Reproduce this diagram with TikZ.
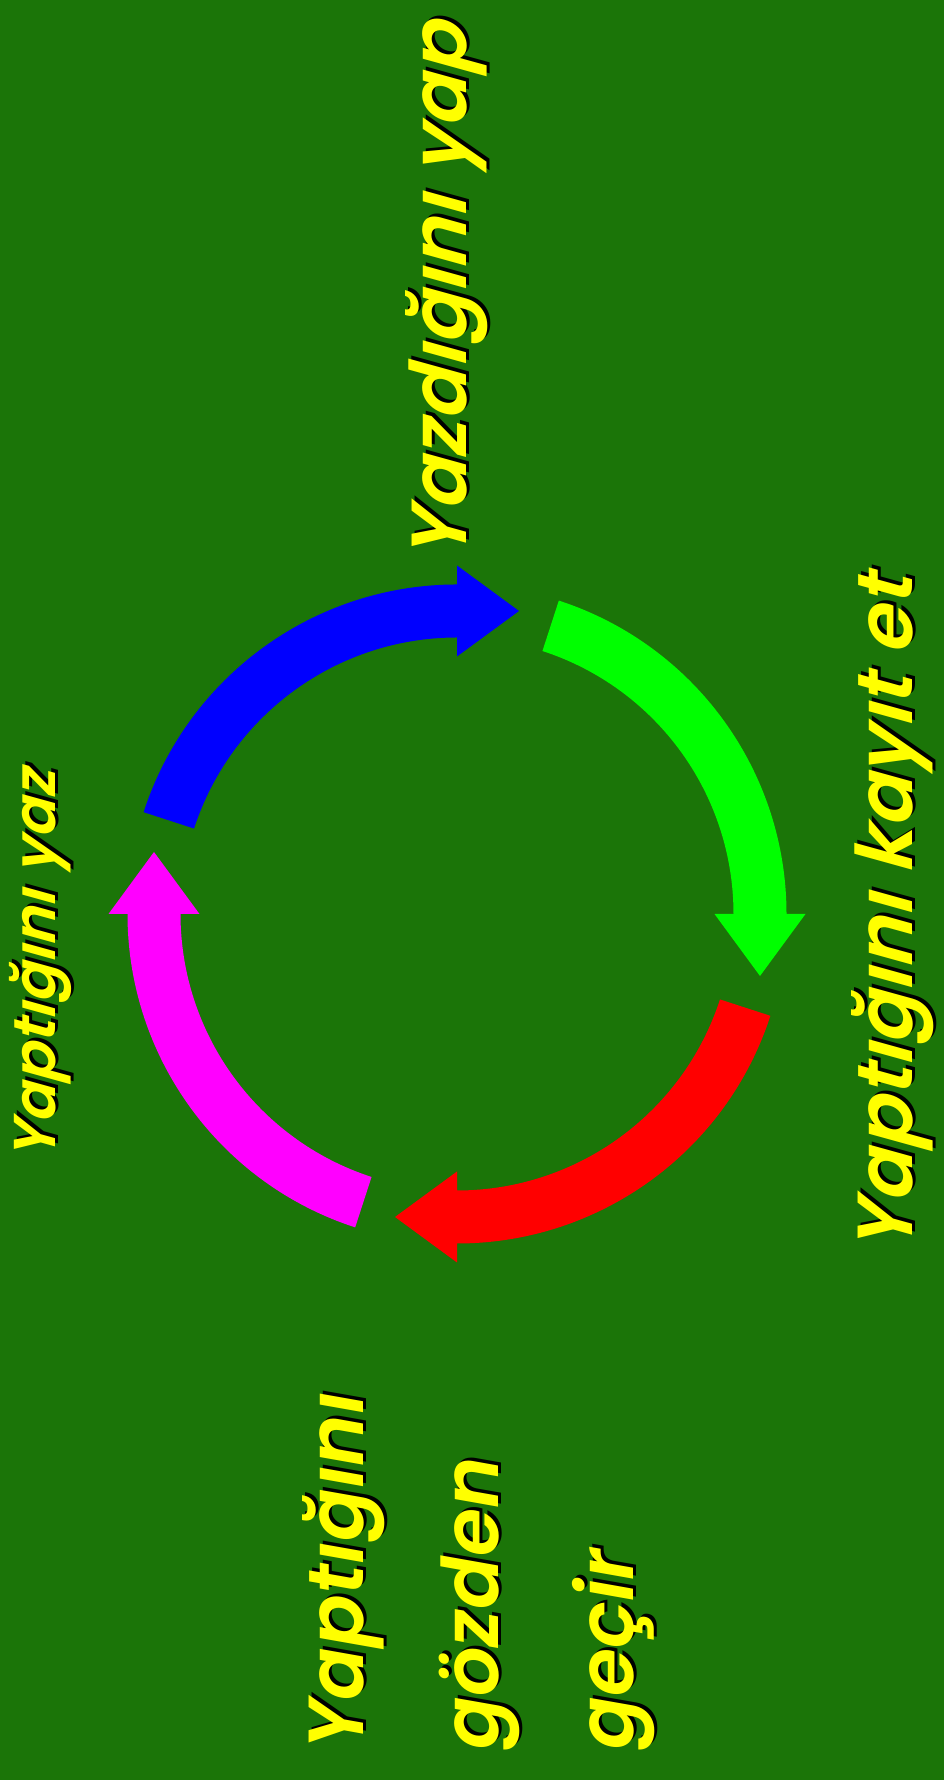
\documentclass[tikz,border=0pt]{standalone}
\usepackage{fontspec}
\newfontfamily\cyclefont{Poppins}[ItalicFont={* SemiBold Italic}]
\usepackage{xcolor}
\definecolor{cycle-bg}{RGB}{27,117,8}
\definecolor{cycle-text}{HTML}{FFFF00}
\definecolor{cycle-blue}{HTML}{0000FF}
\definecolor{cycle-green}{HTML}{00FF00}
\definecolor{cycle-red}{HTML}{FF0000}
\definecolor{cycle-magenta}{HTML}{FF00FF}

\begin{document}
\begin{tikzpicture}[
  x=1pt, y=1pt,
  lblbase/.style={
    rotate=90, inner sep=0pt, text=cycle-text,
    font=\cyclefont\itshape\fontsize{78}{135}\selectfont
  },
  lbl/.style={lblbase, xslant=0.1},
  lblsmall/.style={
    lbl, font=\cyclefont\itshape\fontsize{59}{100}\selectfont
  },
  shade/.style={text=black}
]

%% Background
\fill[cycle-bg] (0,0) rectangle (944,1780);
\useasboundingbox (0,0) rectangle (944,1780);

%% Cycle arrows
\foreach \rot/\col in {0/cycle-blue, -90/cycle-green, -180/cycle-red, 90/cycle-magenta}{
  \begin{scope}[shift={(457,866)}, rotate=\rot]
    \fill[\col] (162:329.5) arc[start angle=162, end angle=90, radius=329.5]
      -- (0,348.5) -- (62,303) -- (0,257.5) -- (0,276.5)
      arc[start angle=90, end angle=162, radius=276.5] -- cycle;
  \end{scope}
}

%% Labels
\node[lbl, shade] (yapS) at (450,1496) {Yazdığını yap};
\node[lbl] (yap) at (447,1493) {Yazdığını yap};

\node[lbl, shade] (kayitS) at (896,873) {Yaptığını kayıt et};
\node[lbl] (kayit) at (893,870) {Yaptığını kayıt et};

\node[lblsmall, shade] (yazS) at (43,821) {Yaptığını yaz};
\node[lblsmall] (yaz) at (40,818) {Yaptığını yaz};

\node[lblbase, shade, align=left, anchor=north west] (gozS) at (305,33) {Yaptığını\\gözden\\geçir};
\node[lblbase, align=left, anchor=north west] (goz) at (302,30) {Yaptığını\\gözden\\geçir};

\end{tikzpicture}
\end{document}
